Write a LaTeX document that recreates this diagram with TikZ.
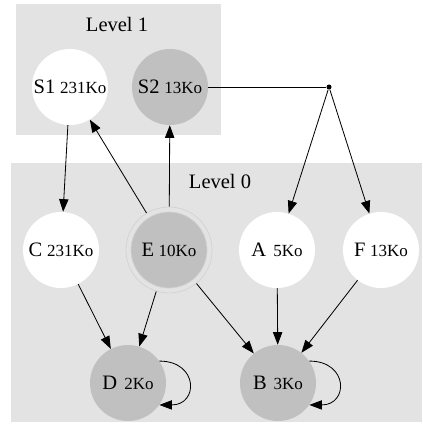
\documentclass[tikz,border=0pt]{standalone}
\usepackage{fontspec}
\setmainfont{Liberation Serif}
\usetikzlibrary{arrows.meta}
\definecolor{clustergray}{HTML}{E3E3E3}
\definecolor{nodegray}{HTML}{C0C0C0}
\definecolor{ringgray}{HTML}{D2D2D2}
\newcommand{\filelabel}[2]{{\fontsize{17.5}{17.5}\selectfont #1}\hspace{4pt}{\fontsize{14.5}{14.5}\selectfont #2}}

\begin{document}
\begin{tikzpicture}[x=0.03cm, y=-0.03cm,
    file/.style={
        circle,
        minimum size=2.28cm,
        inner sep=0pt,
        fill=white
    },
    stored/.style={
        file,
        fill=nodegray
    },
    link/.style={
        -{Triangle[length=0.38cm, width=0.28cm]},
        line width=0.7pt
    }
]
\useasboundingbox (0,0) rectangle (422,432);

% Level 1 cluster
\fill[clustergray] (16,4) rectangle (221,135);
\node[font=\fontsize{17.5}{17.5}\selectfont] (lvl1) at (117,24) {Level 1};

% Level 0 cluster
\fill[clustergray] (11,163) rectangle (422,422);
\node[font=\fontsize{17.5}{17.5}\selectfont] (lvl0) at (220,181) {Level 0};

% Level 1 files
\node[file] (S1) at (70,87) {\filelabel{S1}{231Ko}};
\node[stored] (S2) at (170,87) {\filelabel{S2}{13Ko}};
\node[circle, fill, inner sep=0pt, minimum size=0.15cm] (split) at (329,87) {};

% Level 0 files
\node[file] (C) at (61,250) {\filelabel{C}{231Ko}};
\node[circle, draw=ringgray, line width=0.6pt, minimum size=2.58cm] (E) at (169,250) {};
\node[stored, draw=ringgray, line width=0.6pt] (Ein) at (169,250) {\filelabel{E}{10Ko}};
\node[file] (A) at (277,250) {\filelabel{A}{\hspace{2pt}5Ko}};
\node[file] (F) at (381,250) {\filelabel{F}{13Ko}};
\node[stored] (D) at (128,383) {\filelabel{D}{\hspace{2pt}2Ko}};
\node[stored] (B) at (278,383) {\filelabel{B}{\hspace{2pt}3Ko}};

% Links
\draw[link] (S1) -- (C);
\draw[link] (E) -- (S1);
\draw[link] (E) -- (S2);
\draw[line width=0.7pt] (S2) -- (split);
\draw[link] (split) -- (A);
\draw[link] (split) -- (F);
\draw[link] (C) -- (D);
\draw[link] (E) -- (D);
\draw[link] (E) -- (B);
\draw[link] (A) -- (B);
\draw[link] (F) -- (B);
\draw[link] (D.35) to[out=0, in=0, looseness=2.3] (D.-35);
\draw[link] (B.35) to[out=0, in=0, looseness=2.3] (B.-35);

\end{tikzpicture}
\end{document}
